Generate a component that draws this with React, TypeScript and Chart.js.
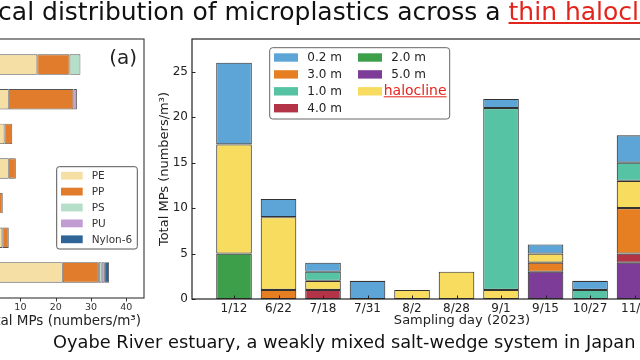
import React, { useEffect, useRef } from 'react';
import { Chart, registerables } from 'chart.js';

Chart.register(...registerables);

const FAMILY = '"DejaVu Sans", "Noto Sans", sans-serif';
Chart.defaults.font.family = FAMILY;

// ---------- Right panel data: stacked bars by sampling day ----------
const days = ['1/12', '6/22', '7/18', '7/31', '8/2', '8/28', '9/1', '9/15', '10/27', '11/2'];
const depth50 = [0, 0, 0, 0, 0, 0, 0, 3, 0, 4];
const depth40 = [0, 0, 1, 0, 0, 0, 0, 0, 0, 1];
const depth30 = [0, 1, 0, 0, 0, 0, 0, 1, 0, 5];
const depth20 = [5, 0, 0, 0, 0, 0, 0, 0, 0, 0];
const haloclineVals = [12, 8, 1, 0, 1, 3, 1, 1, 0, 3];
const depth10 = [0, 0, 1, 0, 0, 0, 20, 0, 1, 2];
const depth02 = [9, 2, 1, 2, 0, 0, 1, 1, 1, 3];
const rightYTicks = [0, 5, 10, 15, 20, 25];
// legend order as in the reference (two columns, column-major)
const rightLegendOrder = ['0.2 m', '3.0 m', '1.0 m', '4.0 m', '2.0 m', '5.0 m', 'halocline'];

// ---------- Left panel data: horizontal stacked bars by polymer ----------
const leftRows = 7;
const pe = [14.8, 6.7, 5.5, 6.7, 3.8, 4.9, 22];
const pp = [9.1, 18.3, 2.2, 2.0, 1.2, 1.8, 10.2];
const ps = [3.1, 0, 0, 0, 0, 0, 0.8];
const pu = [0, 1.0, 0, 0, 0, 0, 0.9];
const nylon6 = [0, 0, 0, 0, 0, 0, 1.2];
const leftXTicks = [0, 10, 20, 30, 40];
const polymerNames = ['PE', 'PP', 'PS', 'PU', 'Nylon-6'];

const TEXT = '#222';
const FRAME = '#222';

function roundRect(ctx: CanvasRenderingContext2D, x: number, y: number, w: number, h: number, r: number) {
  ctx.beginPath();
  ctx.moveTo(x + r, y);
  ctx.lineTo(x + w - r, y);
  ctx.arcTo(x + w, y, x + w, y + r, r);
  ctx.lineTo(x + w, y + h - r);
  ctx.arcTo(x + w, y + h, x + w - r, y + h, r);
  ctx.lineTo(x + r, y + h);
  ctx.arcTo(x, y + h, x, y + h - r, r);
  ctx.lineTo(x, y + r);
  ctx.arcTo(x, y, x + r, y, r);
  ctx.closePath();
}

function RightChart() {
  const ref = useRef<HTMLCanvasElement>(null);
  useEffect(() => {
    const series = [
      { label: '5.0 m', data: depth50, color: '#7D3C98' },
      { label: '4.0 m', data: depth40, color: '#B33447' },
      { label: '3.0 m', data: depth30, color: '#E67E22' },
      { label: '2.0 m', data: depth20, color: '#3E9F4B' },
      { label: 'halocline', data: haloclineVals, color: '#F7DC5F' },
      { label: '1.0 m', data: depth10, color: '#56C3A5' },
      { label: '0.2 m', data: depth02, color: '#5DA5D6' },
    ];
    const colorOf: Record<string, string> = {};
    series.forEach((s) => (colorOf[s.label] = s.color));

    const framePlugin = {
      id: 'frameRight',
      afterDatasetsDraw(chart: any) {
        const { ctx, chartArea: ca, scales } = chart;
        ctx.save();
        ctx.strokeStyle = FRAME;
        ctx.lineWidth = 1.2;
        ctx.strokeRect(ca.left, ca.top, ca.right - ca.left, ca.bottom - ca.top);
        ctx.beginPath();
        scales.x.ticks.forEach((t: any) => {
          const x = Math.round(scales.x.getPixelForValue(t.value)) + 0.5;
          ctx.moveTo(x, ca.bottom);
          ctx.lineTo(x, ca.bottom - 3.5);
        });
        scales.y.ticks.forEach((t: any) => {
          const y = Math.round(scales.y.getPixelForValue(t.value)) + 0.5;
          ctx.moveTo(ca.left, y);
          ctx.lineTo(ca.left + 3.5, y);
        });
        ctx.lineWidth = 1;
        ctx.stroke();
        ctx.restore();
      },
    };

    const legendPlugin = {
      id: 'legendRight',
      afterDraw(chart: any) {
        const { ctx, chartArea: ca } = chart;
        ctx.save();
        const bx = ca.left + 77.7;
        const by = ca.top + 8.7;
        roundRect(ctx, bx, by, 180, 71.3, 3);
        ctx.fillStyle = 'rgba(255,255,255,0.9)';
        ctx.fill();
        ctx.strokeStyle = '#666';
        ctx.lineWidth = 1;
        ctx.stroke();
        rightLegendOrder.forEach((label, i) => {
          const col = i < 4 ? 0 : 1;
          const row = i < 4 ? i : i - 4;
          const cy = ca.top + 18.5 + row * 16.9;
          const px = ca.left + (col === 0 ? 82 : 166);
          ctx.fillStyle = colorOf[label];
          ctx.fillRect(px, cy - 4.2, 24, 8.4);
          ctx.textBaseline = 'middle';
          ctx.textAlign = 'left';
          if (label === 'halocline') {
            ctx.font = `14px ${FAMILY}`;
            ctx.fillStyle = '#E3241C';
            const tx = ca.left + 191.7;
            ctx.fillText(label, tx, cy + 0.5);
            const w = ctx.measureText(label).width;
            ctx.fillRect(tx, cy + 5, w, 1);
          } else {
            ctx.font = `12px ${FAMILY}`;
            ctx.fillStyle = TEXT;
            const tx = ca.left + (col === 0 ? 115.3 : 199.3);
            ctx.fillText(label, tx, cy + 0.5);
          }
        });
        ctx.restore();
      },
    };

    const chart = new Chart(ref.current as HTMLCanvasElement, {
      type: 'bar',
      data: {
        datasets: series.map((s) => ({
          label: s.label,
          data: s.data.map((v, i) => ({ x: i, y: v })),
          backgroundColor: s.color,
          borderColor: '#333',
          borderWidth: (c: any) => (c.raw && c.raw.y > 0 ? 1.1 : 0),
          borderSkipped: false,
          barPercentage: 0.8,
          categoryPercentage: 1,
        })) as any,
      },
      options: {
        animation: false,
        responsive: false,
        maintainAspectRatio: false,
        layout: { padding: { top: 39, right: 18, left: 0, bottom: 0 } },
        plugins: { legend: { display: false }, tooltip: { enabled: false } },
        scales: {
          x: {
            type: 'linear',
            stacked: true,
            offset: false,
            min: -0.944,
            max: 11.19,
            grid: { display: false, drawTicks: false, offset: false },
            border: { display: false },
            afterBuildTicks: (s: any) => {
              s.ticks = days.map((_, i) => ({ value: i }));
            },
            afterFit: (s: any) => {
              s.height = 61;
            },
            ticks: {
              callback: (v: any) => days[Math.round(Number(v))],
              font: { size: 12, family: FAMILY },
              color: TEXT,
              padding: 3,
              maxRotation: 0,
              autoSkip: false,
            },
            title: {
              display: true,
              text: 'Sampling day (2023)',
              font: { size: 13, family: FAMILY },
              color: TEXT,
              padding: { top: 0, bottom: 32 },
            },
          },
          y: {
            type: 'linear',
            stacked: true,
            min: 0,
            max: 28.6,
            grid: { display: false, drawTicks: false },
            border: { display: false },
            afterBuildTicks: (s: any) => {
              s.ticks = rightYTicks.map((v) => ({ value: v }));
            },
            afterFit: (s: any) => {
              s.width = 42;
            },
            ticks: {
              font: { size: 12, family: FAMILY },
              color: TEXT,
              padding: 4,
            },
            title: {
              display: true,
              text: 'Total MPs (numbers/m³)',
              font: { size: 13, family: FAMILY },
              color: TEXT,
              padding: { top: 7, bottom: 0 },
            },
          },
        },
      } as any,
      plugins: [framePlugin, legendPlugin],
    });
    return () => chart.destroy();
  }, []);
  return (
    <canvas
      ref={ref}
      width={600}
      height={360}
      style={{ position: 'absolute', left: 150, top: 0, width: 600, height: 360 }}
    />
  );
}

function LeftChart() {
  const ref = useRef<HTMLCanvasElement>(null);
  useEffect(() => {
    const series = [
      { label: polymerNames[0], data: pe, color: '#F6DFA4' },
      { label: polymerNames[1], data: pp, color: '#E17C2C' },
      { label: polymerNames[2], data: ps, color: '#B5DFC9' },
      { label: polymerNames[3], data: pu, color: '#C39BD3' },
      { label: polymerNames[4], data: nylon6, color: '#2F6497' },
    ];

    const framePlugin = {
      id: 'frameLeft',
      afterDatasetsDraw(chart: any) {
        const { ctx, chartArea: ca, scales } = chart;
        ctx.save();
        ctx.strokeStyle = '#333';
        ctx.lineWidth = 1.1;
        ctx.strokeRect(ca.left, ca.top, ca.right - ca.left, ca.bottom - ca.top);
        ctx.beginPath();
        scales.x.ticks.forEach((t: any) => {
          const x = Math.round(scales.x.getPixelForValue(t.value)) + 0.5;
          ctx.moveTo(x, ca.bottom);
          ctx.lineTo(x, ca.bottom + 3.5);
        });
        ctx.lineWidth = 1;
        ctx.stroke();
        ctx.restore();
      },
    };

    const legendPlugin = {
      id: 'legendLeft',
      afterDraw(chart: any) {
        const { ctx, chartArea: ca } = chart;
        ctx.save();
        const bx = ca.right - 87.3;
        const by = ca.top + 127.7;
        roundRect(ctx, bx, by, 80.6, 82.3, 2.5);
        ctx.fillStyle = 'rgba(255,255,255,0.9)';
        ctx.fill();
        ctx.strokeStyle = '#555';
        ctx.lineWidth = 1;
        ctx.stroke();
        series.forEach((s, i) => {
          const cy = ca.top + 136.7 + i * 15.9;
          ctx.fillStyle = s.color;
          ctx.fillRect(ca.right - 83, cy - 3.9, 21.7, 7.8);
          ctx.font = `10.5px ${FAMILY}`;
          ctx.fillStyle = '#333';
          ctx.textBaseline = 'middle';
          ctx.textAlign = 'left';
          ctx.fillText(s.label, ca.right - 52.3, cy + 0.5);
        });
        ctx.font = `20px ${FAMILY}`;
        ctx.fillStyle = '#222';
        ctx.textAlign = 'right';
        ctx.textBaseline = 'middle';
        ctx.fillText('(a)', ca.right - 7, ca.top + 20);
        ctx.restore();
      },
    };

    const chart = new Chart(ref.current as HTMLCanvasElement, {
      type: 'bar',
      data: {
        datasets: series.map((s) => ({
          label: s.label,
          data: s.data.map((v, i) => ({ x: v, y: i })),
          backgroundColor: s.color,
          borderColor: '#555',
          borderWidth: (c: any) => (c.raw && c.raw.x > 0 ? 0.9 : 0),
          borderSkipped: false,
          barPercentage: 0.8,
          categoryPercentage: 1,
        })) as any,
      },
      options: {
        indexAxis: 'y',
        animation: false,
        responsive: false,
        maintainAspectRatio: false,
        layout: { padding: { top: 39, right: 11, left: 0, bottom: 0 } },
        plugins: { legend: { display: false }, tooltip: { enabled: false } },
        scales: {
          x: {
            type: 'linear',
            stacked: true,
            min: -2,
            max: 45,
            grid: { display: false, drawTicks: false },
            border: { display: false },
            afterBuildTicks: (s: any) => {
              s.ticks = leftXTicks.map((v) => ({ value: v }));
            },
            afterFit: (s: any) => {
              s.height = 62;
            },
            ticks: {
              font: { size: 9.5, family: FAMILY },
              color: '#333',
              padding: 3.5,
              maxRotation: 0,
              autoSkip: false,
            },
            title: {
              display: true,
              text: 'Total MPs (numbers/m³)',
              font: { size: 13.5, family: FAMILY },
              color: TEXT,
              padding: { top: 0, bottom: 30 },
            },
          },
          y: {
            type: 'linear',
            stacked: true,
            reverse: true,
            offset: false,
            min: -0.74,
            max: leftRows - 1 + 0.74,
            display: false,
            grid: { offset: false },
          },
        },
      } as any,
      plugins: [framePlugin, legendPlugin],
    });
    return () => chart.destroy();
  }, []);
  return (
    <canvas
      ref={ref}
      width={177}
      height={360}
      style={{ position: 'absolute', left: -22, top: 0, width: 177, height: 360 }}
    />
  );
}

export default function App() {
  return (
    <div
      style={{
        position: 'fixed',
        left: 0,
        top: 0,
        width: 640,
        height: 360,
        overflow: 'hidden',
        background: '#fff',
        fontFamily: FAMILY,
      }}
    >
      <LeftChart />
      <RightChart />
      <div
        style={{
          position: 'absolute',
          left: -59.5,
          top: 0,
          fontSize: 25,
          lineHeight: '24px',
          whiteSpace: 'nowrap',
          color: '#111',
        }}
      >
        Vertical distribution of microplastics across a{' '}
        <span style={{ color: '#E3241C', textDecoration: 'underline' }}>thin halocline</span>
      </div>
      <div
        style={{
          position: 'absolute',
          left: 53,
          top: 333,
          fontSize: 17.8,
          lineHeight: '18px',
          whiteSpace: 'nowrap',
          color: '#111',
        }}
      >
        Oyabe River estuary, a weakly mixed salt-wedge system in Japan
      </div>
    </div>
  );
}
